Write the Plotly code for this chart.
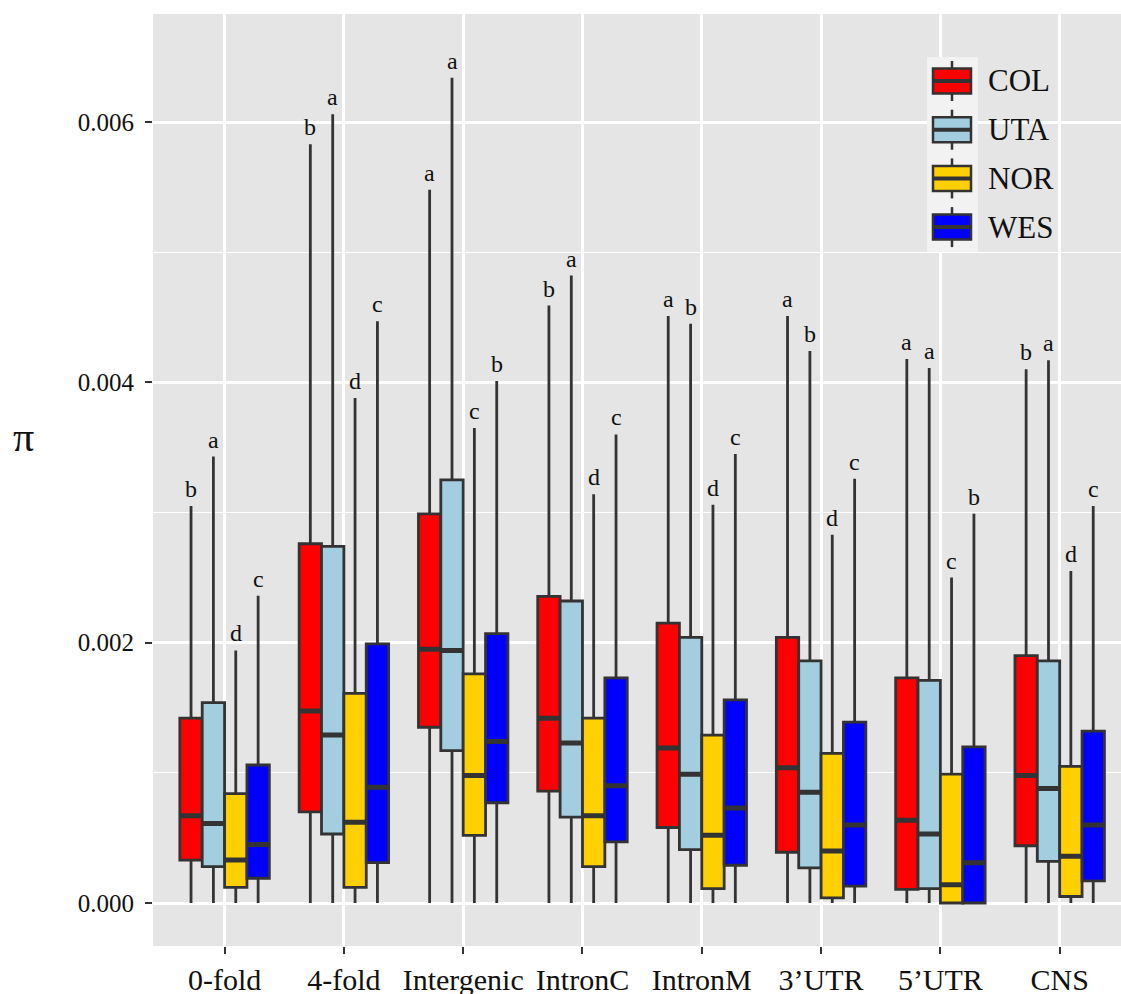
import plotly.graph_objects as go

# ---------------- data (values in units of 0.001) ----------------
categories = ["0-fold", "4-fold", "Intergenic", "IntronC", "IntronM", "3’UTR", "5’UTR", "CNS"]
groups = ["COL", "UTA", "NOR", "WES"]
colors = ["#FF0000", "#A2CEE0", "#FFD000", "#0000FF"]
SCALE = 0.001

col_upper = [3.05, 5.83, 5.48, 4.59, 4.51, 4.51, 4.18, 4.10]
col_q3 = [1.42, 2.76, 2.99, 2.355, 2.15, 2.04, 1.73, 1.90]
col_median = [0.67, 1.475, 1.95, 1.42, 1.19, 1.04, 0.635, 0.98]
col_q1 = [0.33, 0.70, 1.35, 0.86, 0.58, 0.39, 0.105, 0.44]
col_lower = [0, 0, 0, 0, 0, 0, 0, 0]

uta_upper = [3.43, 6.06, 6.34, 4.82, 4.45, 4.24, 4.11, 4.17]
uta_q3 = [1.54, 2.74, 3.25, 2.32, 2.04, 1.86, 1.71, 1.86]
uta_median = [0.61, 1.29, 1.94, 1.23, 0.99, 0.85, 0.53, 0.88]
uta_q1 = [0.28, 0.53, 1.17, 0.66, 0.41, 0.27, 0.11, 0.32]
uta_lower = [0, 0, 0, 0, 0, 0, 0, 0]

nor_upper = [1.94, 3.88, 3.65, 3.14, 3.06, 2.83, 2.50, 2.55]
nor_q3 = [0.84, 1.61, 1.76, 1.42, 1.29, 1.15, 0.99, 1.05]
nor_median = [0.33, 0.62, 0.98, 0.67, 0.52, 0.40, 0.14, 0.36]
nor_q1 = [0.12, 0.12, 0.52, 0.28, 0.11, 0.04, 0.0, 0.05]
nor_lower = [0, 0, 0, 0, 0, 0, 0, 0]

wes_upper = [2.36, 4.47, 4.01, 3.60, 3.45, 3.26, 2.99, 3.05]
wes_q3 = [1.06, 1.99, 2.07, 1.73, 1.56, 1.39, 1.20, 1.32]
wes_median = [0.45, 0.89, 1.24, 0.90, 0.73, 0.60, 0.31, 0.60]
wes_q1 = [0.19, 0.31, 0.77, 0.47, 0.29, 0.13, 0.0, 0.17]
wes_lower = [0, 0, 0, 0, 0, 0, 0, 0]

col_letters = ["b", "b", "a", "b", "a", "a", "a", "b"]
uta_letters = ["a", "a", "a", "a", "b", "b", "a", "a"]
nor_letters = ["d", "d", "c", "d", "d", "d", "c", "d"]
wes_letters = ["c", "c", "b", "c", "c", "c", "b", "c"]

y_tick_vals = [0.0, 0.002, 0.004, 0.006]
y_tick_text = ["0.000", "0.002", "0.004", "0.006"]

series = [
    (col_lower, col_q1, col_median, col_q3, col_upper, col_letters),
    (uta_lower, uta_q1, uta_median, uta_q3, uta_upper, uta_letters),
    (nor_lower, nor_q1, nor_median, nor_q3, nor_upper, nor_letters),
    (wes_lower, wes_q1, wes_median, wes_q3, wes_upper, wes_letters),
]

# ---------------- figure ----------------
W, H = 1121, 994
ML, MR, MT, MB = 153, 0, 14, 48
PW, PH = W - ML - MR, H - MT - MB
OUTLINE = "#333333"
FONT = "Liberation Serif, Times New Roman, serif"

BOXGAP = 0.25
n_groups = len(groups)
box_w = (1 - BOXGAP) / n_groups

def s(v):
    return [x * SCALE for x in v]

fig = go.Figure()
annotations = []
for gi, (g, c, (lo, q1, med, q3, up, letters)) in enumerate(zip(groups, colors, series)):
    fig.add_trace(go.Box(
        name=g, x=categories,
        lowerfence=s(lo), q1=s(q1), median=s(med), q3=s(q3), upperfence=s(up),
        fillcolor=c, line=dict(color=OUTLINE, width=2.8),
        whiskerwidth=0, boxpoints=False, showlegend=False,
        offsetgroup=g, alignmentgroup="all", hoverinfo="skip",
    ))
    # thicker median bar (ggplot-style "fatten"), same slot as its box
    fig.add_trace(go.Box(
        name=g + " median", x=categories,
        lowerfence=s(med), q1=s(med), median=s(med), q3=s(med), upperfence=s(med),
        fillcolor="rgba(0,0,0,0)", line=dict(color=OUTLINE, width=5),
        whiskerwidth=0, boxpoints=False, showlegend=False,
        offsetgroup=g, alignmentgroup="all", hoverinfo="skip",
    ))
    offset = (gi - (n_groups - 1) / 2) * box_w
    for ci, (val, lt) in enumerate(zip(s(up), letters)):
        annotations.append(dict(
            x=ci + offset, y=val, xref="x", yref="y", text=lt,
            showarrow=False, yanchor="bottom", xanchor="center", yshift=2,
            font=dict(family=FONT, size=24, color="#111111"),
        ))

# pixel -> paper helpers for layout decorations (legend, axis title)
def px(X):
    return (X - ML) / PW

def py(Y):
    return (H - MB - Y) / PH

shapes = []
# legend key background
shapes.append(dict(type="rect", xref="paper", yref="paper", layer="above",
                   x0=px(927), x1=px(978), y0=py(252), y1=py(57),
                   fillcolor="#F2F2F2", line=dict(width=0)))
for gi, (g, c) in enumerate(zip(groups, colors)):
    yc = 81 + 48.7 * gi
    shapes.append(dict(type="line", xref="paper", yref="paper", layer="above",
                       x0=px(952), x1=px(952), y0=py(yc - 20), y1=py(yc + 20),
                       line=dict(color=OUTLINE, width=2.5)))
    shapes.append(dict(type="rect", xref="paper", yref="paper", layer="above",
                       x0=px(933), x1=px(971), y0=py(yc + 12.5), y1=py(yc - 12.5),
                       fillcolor=c, line=dict(color=OUTLINE, width=2.5)))
    shapes.append(dict(type="line", xref="paper", yref="paper", layer="above",
                       x0=px(933), x1=px(971), y0=py(yc), y1=py(yc),
                       line=dict(color=OUTLINE, width=4)))
    annotations.append(dict(x=px(986), y=py(yc), xref="paper", yref="paper",
                            text=g, showarrow=False, xanchor="left", yanchor="middle",
                            font=dict(family=FONT, size=31, color="#111111")))

# y-axis title (upright pi)
annotations.append(dict(x=px(23), y=py(437), xref="paper", yref="paper",
                        text="π", showarrow=False, xanchor="center", yanchor="middle",
                        font=dict(family=FONT, size=42, color="#111111")))

fig.update_layout(
    width=W, height=H,
    margin=dict(l=ML, r=MR, t=MT, b=MB, pad=0),
    paper_bgcolor="white", plot_bgcolor="#E5E5E5",
    boxmode="group", boxgap=BOXGAP, boxgroupgap=0,
    showlegend=False,
    annotations=annotations, shapes=shapes,
    font=dict(family=FONT, color="#111111"),
)
fig.update_xaxes(
    type="category", categoryorder="array", categoryarray=categories,
    range=[-0.6, -0.6 + PW / 119.3],
    showgrid=True, gridcolor="white", gridwidth=2.5,
    ticks="outside", ticklen=7, tickwidth=1.5, tickcolor=OUTLINE,
    tickfont=dict(family=FONT, size=30, color="#111111"),
    ticklabelstandoff=0,
    showline=False, zeroline=False, automargin=False,
)
fig.update_yaxes(
    range=[(946 - 903) / -130167, (903 - 14) / 130167],
    tickvals=y_tick_vals, ticktext=y_tick_text,
    showgrid=True, gridcolor="white", gridwidth=2.5,
    minor=dict(dtick=0.001, showgrid=True, gridcolor="white", gridwidth=1.2, ticks=""),
    ticks="outside", ticklen=7, tickwidth=1.5, tickcolor=OUTLINE,
    tickfont=dict(family=FONT, size=25, color="#111111"),
    ticklabelstandoff=6,
    showline=False, zeroline=False, automargin=False,
)

fig.write_html(
    "out.html",
    config={"displayModeBar": False},
    post_script="document.body.style.margin='0';document.body.style.overflow='hidden';",
)
